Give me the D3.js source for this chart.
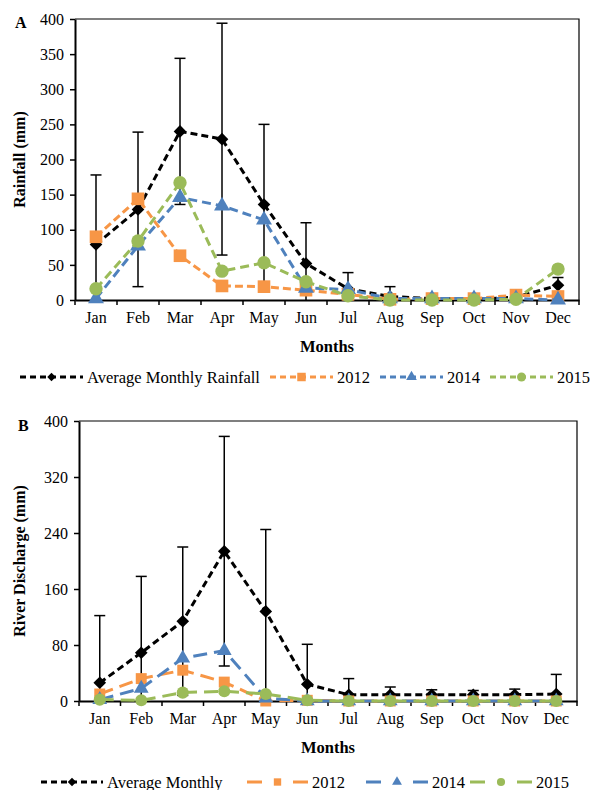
<!DOCTYPE html>
<html>
<head>
<meta charset="utf-8">
<script src="https://cdn.jsdelivr.net/npm/d3@7"></script>
<style>
  body { margin: 0; background: #fff; }
  svg text { font-family: "Liberation Serif", "Times New Roman", serif; }
</style>
</head>
<body>
<div id="chart"></div>
<script>
// Monthly rainfall and river discharge, long-term average vs 2012/2014/2015

var months = ["Jan", "Feb", "Mar", "Apr", "May", "Jun", "Jul", "Aug", "Sep", "Oct", "Nov", "Dec"];

// panel A - rainfall (mm)
var rainTicks = [0, 50, 100, 150, 200, 250, 300, 350, 400];
var rainAvg  = [79, 129, 240, 229, 136, 52, 16, 5, 2, 1, 4, 21];
var rainSD   = [99, 110, 104, 165, 114, 58, 23, 14, 7, 3, 8, 11];
var rain2012 = [90, 144, 63, 20, 19, 14, 8, 1, 2, 2, 7, 5];
var rain2014 = [2, 77, 146, 134, 114, 17, 15, 2, 2, 2, 2, 0];
var rain2015 = [16, 84, 167, 41, 53, 26, 6, 0, 0, 0, 1, 44];

// panel B - river discharge (mm)
var flowTicks = [0, 80, 160, 240, 320, 400];
var flowAvg  = [26, 69, 114, 214, 128, 24, 9, 9, 9, 9, 9, 10];
var flowSD   = [96, 109, 106, 164, 117, 57, 23, 11, 7, 6, 8, 28];
var flow2012 = [10, 32, 44, 27, 0, 1, 0, 0, 0, 0, 0, 0];
var flow2014 = [2, 18, 61, 72, 4, 0, 0, 0, 0, 0, 0, 0];
var flow2015 = [2, 1, 12, 14, 10, 1, 0, 0, 0, 0, 0, 0];

var width = 592, height = 790;
var serif = "'Liberation Serif', 'Times New Roman', serif";
var svg = d3.select("#chart").append("svg")
    .attr("width", width)
    .attr("height", height)
    .style("font-family", serif);

var black = "#000000", orange = "#F79646", blue = "#4F81BD", green = "#9BBB59";

var diamond = {
    draw: function (ctx, size) {
        var r = Math.sqrt(size / 2);
        ctx.moveTo(0, -r); ctx.lineTo(r, 0); ctx.lineTo(0, r); ctx.lineTo(-r, 0); ctx.closePath();
    }
};

function drawPanel(opt) {
    var box = opt.box;
    var x = d3.scaleBand().domain(months).range([box.left, box.right]).padding(0);
    var y = d3.scaleLinear().domain([0, opt.ticks[opt.ticks.length - 1]]).range([box.bottom, box.top]);
    var g = svg.append("g");
    var id = "clip" + opt.letter;

    svg.append("clipPath").attr("id", id)
        .append("rect")
        .attr("x", box.left).attr("y", box.top)
        .attr("width", box.right - box.left).attr("height", box.bottom - box.top);

    // frame top/right
    g.append("path")
        .attr("d", "M" + box.left + "," + box.top + "H" + box.right + "V" + box.bottom)
        .attr("fill", "none").attr("stroke", "#000").attr("stroke-width", 1.2);

    // y axis
    var yAxis = g.append("g")
        .attr("transform", "translate(" + box.left + ",0)")
        .call(d3.axisLeft(y).tickValues(opt.ticks).tickSize(5).tickSizeOuter(0).tickPadding(6));
    yAxis.attr("font-family", serif);
    yAxis.select(".domain").attr("stroke-width", 2);
    yAxis.selectAll(".tick line").attr("stroke-width", 1.5);
    yAxis.selectAll("text").attr("font-size", "16px").attr("fill", "#000");

    // x axis: labels centered, ticks at category boundaries
    var xAxis = g.append("g")
        .attr("transform", "translate(0," + box.bottom + ")")
        .call(d3.axisBottom(x).tickSize(0).tickPadding(opt.labelPad));
    xAxis.attr("font-family", serif);
    xAxis.select(".domain").attr("stroke-width", 2);
    xAxis.selectAll("text").attr("font-size", "16px").attr("fill", "#000");
    g.append("g").selectAll("line")
        .data(d3.range(months.length + 1))
        .enter().append("line")
        .attr("x1", function (i) { return box.left + i * x.step(); })
        .attr("x2", function (i) { return box.left + i * x.step(); })
        .attr("y1", box.bottom).attr("y2", box.bottom + 5)
        .attr("stroke", "#000").attr("stroke-width", 1.5);

    var cx = function (i) { return x(months[i]) + x.bandwidth() / 2; };

    // error bars on the average
    var eb = g.append("g").attr("clip-path", "url(#" + id + ")");
    opt.avg.forEach(function (v, i) {
        var hi = v + opt.sd[i], lo = v - opt.sd[i];
        eb.append("line")
            .attr("x1", cx(i)).attr("x2", cx(i))
            .attr("y1", y(lo)).attr("y2", y(hi))
            .attr("stroke", "#000").attr("stroke-width", 1.5);
        [hi, lo].forEach(function (e) {
            eb.append("line")
                .attr("x1", cx(i) - 5.5).attr("x2", cx(i) + 5.5)
                .attr("y1", y(e)).attr("y2", y(e))
                .attr("stroke", "#000").attr("stroke-width", 1.5);
        });
    });

    var line = d3.line()
        .x(function (d, i) { return cx(i); })
        .y(function (d) { return y(d); });

    opt.series.forEach(function (s) {
        g.append("path")
            .datum(s.values)
            .attr("d", line)
            .attr("fill", "none")
            .attr("stroke", s.color)
            .attr("stroke-width", 3)
            .attr("stroke-dasharray", s.dash);
        g.append("g").selectAll("path")
            .data(s.values)
            .enter().append("path")
            .attr("transform", function (d, i) { return "translate(" + cx(i) + "," + y(d) + ")"; })
            .attr("d", d3.symbol().type(s.symbol).size(s.size))
            .attr("fill", s.color);
    });

    // panel letter
    svg.append("text")
        .attr("x", opt.letterX).attr("y", opt.letterY)
        .attr("font-size", "16px").attr("font-weight", "bold")
        .text(opt.letter);

    // y title
    svg.append("text")
        .attr("transform", "translate(" + opt.yTitleX + "," + ((box.top + box.bottom) / 2) + ") rotate(-90)")
        .attr("text-anchor", "middle")
        .attr("font-size", "16px").attr("font-weight", "bold")
        .text(opt.yTitle);

    // x title
    svg.append("text")
        .attr("x", (box.left + box.right) / 2).attr("y", opt.xTitleY)
        .attr("text-anchor", "middle")
        .attr("font-size", "16.5px").attr("font-weight", "bold")
        .text("Months");

    // legend
    var leg = svg.append("g");
    opt.legend.forEach(function (l) {
        leg.append("line")
            .attr("x1", l.x1).attr("x2", l.x2)
            .attr("y1", opt.legendY).attr("y2", opt.legendY)
            .attr("stroke", l.s.color).attr("stroke-width", 3)
            .attr("stroke-dasharray", l.dash);
        leg.append("path")
            .attr("transform", "translate(" + ((l.x1 + l.x2) / 2) + "," + opt.legendY + ")")
            .attr("d", d3.symbol().type(l.s.symbol).size(l.s.size * 0.45))
            .attr("fill", l.s.color);
        leg.append("text")
            .attr("x", l.x2 + 4).attr("y", opt.legendY + 5.5)
            .attr("font-size", "16.5px")
            .text(l.label);
    });
}

var shortDash = "7,4";

var seriesA = [
    { values: rainAvg,  color: black,  dash: shortDash, symbol: diamond, size: 80 },
    { values: rain2012, color: orange, dash: "8,4", symbol: d3.symbolSquare, size: 160 },
    { values: rain2014, color: blue,   dash: "9,5", symbol: d3.symbolTriangle, size: 110 },
    { values: rain2015, color: green,  dash: "9,5", symbol: d3.symbolCircle, size: 140 }
];

drawPanel({
    letter: "A", letterX: 15, letterY: 28,
    box: { left: 75, right: 579, top: 19, bottom: 300 },
    ticks: rainTicks, avg: rainAvg, sd: rainSD,
    series: seriesA,
    yTitle: "Rainfall (mm)", yTitleX: 25,
    labelPad: 12, xTitleY: 352,
    legendY: 377,
    legend: [
        { s: seriesA[0], x1: 20, x2: 83, dash: "6,4", label: "Average Monthly Rainfall" },
        { s: seriesA[1], x1: 270, x2: 333, dash: "6,4", label: "2012" },
        { s: seriesA[2], x1: 380, x2: 443, dash: "6,4", label: "2014" },
        { s: seriesA[3], x1: 490, x2: 553, dash: "6,4", label: "2015" }
    ]
});

var seriesB = [
    { values: flowAvg,  color: black,  dash: shortDash, symbol: diamond, size: 80 },
    { values: flow2012, color: orange, dash: "14,7", symbol: d3.symbolSquare, size: 120 },
    { values: flow2014, color: blue,   dash: "14,7", symbol: d3.symbolTriangle, size: 95 },
    { values: flow2015, color: green,  dash: "14,7", symbol: d3.symbolCircle, size: 115 }
];

drawPanel({
    letter: "B", letterX: 18, letterY: 431,
    box: { left: 79, right: 577, top: 421, bottom: 701 },
    ticks: flowTicks, avg: flowAvg, sd: flowSD,
    series: seriesB,
    yTitle: "River Discharge (mm)", yTitleX: 25,
    labelPad: 12, xTitleY: 753,
    legendY: 782,
    legend: [
        { s: seriesB[0], x1: 41, x2: 103, dash: "6,4", label: "Average Monthly" },
        { s: seriesB[1], x1: 247, x2: 308, dash: "15,31", label: "2012" },
        { s: seriesB[2], x1: 366, x2: 428, dash: "15,32", label: "2014" },
        { s: seriesB[3], x1: 470, x2: 532, dash: "15,32", label: "2015" }
    ]
});
</script>
</body>
</html>
